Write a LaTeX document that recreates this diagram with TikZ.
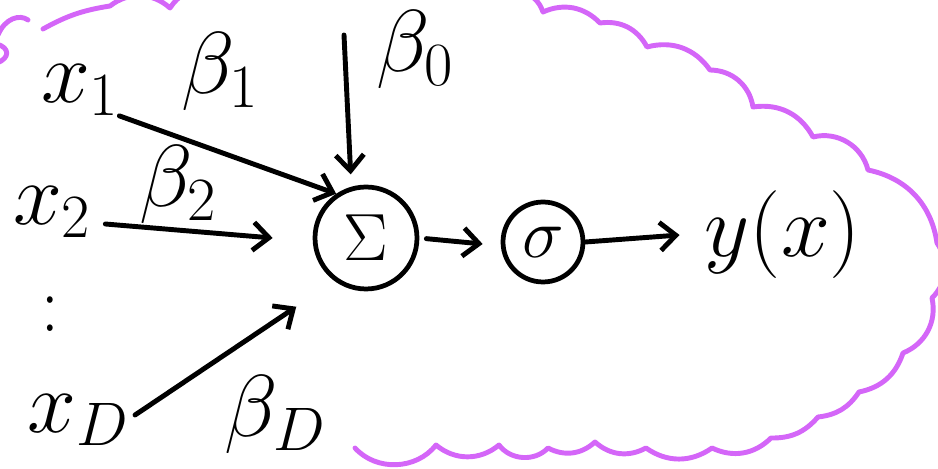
\RequirePackage{fix-cm}
\documentclass[tikz,border=0pt]{standalone}
\usetikzlibrary{arrows.meta}
\definecolor{cloudpink}{HTML}{D466F8}

\begin{document}
\begin{tikzpicture}[x=0.02cm, y=-0.02cm,
  >={Straight Barb[length=9pt, width=16pt]},
  hand/.style={inner sep=0pt, font=\fontsize{50}{60}\selectfont},
  arr/.style={->, line width=2.8pt, line cap=round},
  ring/.style={circle, draw, line width=2.7pt, inner sep=0pt},
  cloudline/.style={cloudpink, line width=2.8pt, line cap=round, line join=round}]

\useasboundingbox (0,0) rectangle (938,469);

% Cloud outline (cut by the picture border)
\begin{scope}
\clip (0,0) rectangle (938,469);
\draw[cloudline] (-2,35) .. controls (5,18) and (20,14) .. (28,20);
\draw[cloudline] (-3,44) .. controls (10,48) and (10,58) .. (-3,63);
\draw[cloudline] (43,29) to[bend left=10] (110,6) to[bend left=40] (170,8)
  to[bend left=30] (205,-10) to[bend left=10] (520,-8) to[bend left=30] (543,12)
  to[bend left=35] (600,23) to[bend left=35] (647,47) to[bend left=35] (710,70)
  to[bend left=40] (753,107) to[bend left=35] (813,137) to[bend left=45] (868,170)
  to[bend left=35] (937,243) to[bend left=40] (932,298) to[bend left=40] (903,353)
  to[bend left=30] (859,392) to[bend left=25] (818,417) to[bend left=25] (771,438)
  to[bend left=35] (712,448) to[bend left=35] (646,448) to[bend left=35] (595,442)
  to[bend left=35] (548,448) to[bend left=50] (499,445) to[bend left=40] (436,445)
  to[bend left=50] (355,448);
\end{scope}

% Inputs and weights
\node[hand] (x1) at (80,90) {$x_1$};
\node[hand] (b1) at (220,72) {$\beta_1$};
\node[hand] (b0) at (415,50) {$\beta_0$};
\node[hand] (x2) at (52,212) {$x_2$};
\node[hand] (b2) at (178,185) {$\beta_2$};
\node[inner sep=0pt, font=\fontsize{40}{40}\selectfont] (dots) at (50,314) {\scalebox{1}[1.15]{:}};
\node[hand] (xD) at (78,420) {$x_D$};
\node[hand] (bD) at (275,415) {$\beta_D$};

% Sum, activation, output
\node[ring, minimum size=2.04cm, font=\fontsize{38}{44}\selectfont] (sum) at (366,238) {$\Sigma$};
\node[ring, minimum size=1.6cm, font=\fontsize{40}{46}\selectfont] (sig) at (543,242) {$\sigma$};
\node[hand] (yx) at (783,235) {$y(x)$};

\coordinate (b0tail) at (344,35);

\draw[arr] (x1.south east) -- (sum.124);
\draw[arr] ([shift={(14,12)}]x2.east) -- ([shift={(-40,0)}]sum.west);
\draw[arr] ([shift={(6,-5)}]xD.east) -- ([shift={(-32,31)}]sum.225);
\draw[arr, shorten >=7pt] (b0tail) -- (sum.106);
\draw[arr, shorten <=4pt] (sum.east) -- ([shift={(-18,2)}]sig.west);
\draw[arr] (sig.east) -- ([shift={(-25,0)}]yx.west);

\end{tikzpicture}
\end{document}
